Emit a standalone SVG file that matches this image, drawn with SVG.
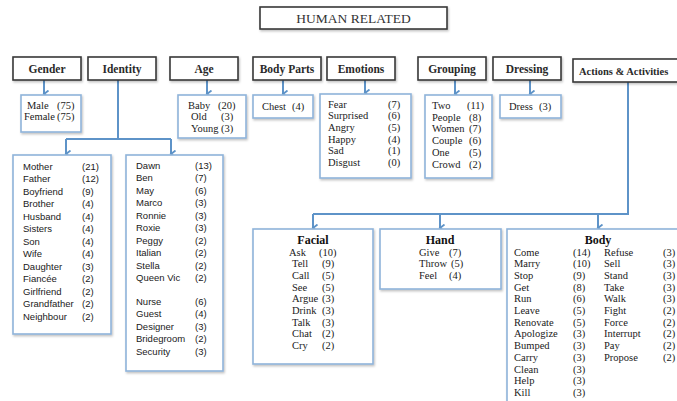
<svg xmlns="http://www.w3.org/2000/svg" width="677" height="401" viewBox="0 0 677 401">
<style>
.hdr{fill:#fff;stroke:#3a3a3a;stroke-width:1.6}
.box{fill:#fff;stroke:#8fb3da;stroke-width:1.6}
.ht{font-family:"Liberation Serif",serif;font-size:11.5px;font-weight:bold;fill:#2a2a2a;text-anchor:middle}
.s{font-family:"Liberation Serif",serif;font-size:10.5px;fill:#1a1a1a}
.b{font-family:"Liberation Sans",sans-serif;font-size:9.5px;fill:#1a1a1a}
.st{font-family:"Liberation Serif",serif;font-size:12px;font-weight:bold;fill:#111;text-anchor:middle}
.c{fill:none;stroke:#5e93c8;stroke-width:2}
.title{font-family:"Liberation Serif",serif;font-size:13.5px;fill:#333;text-anchor:middle}
</style>
<defs>
<filter id="sh" x="-10%" y="-10%" width="130%" height="140%">
<feDropShadow dx="1" dy="1.5" stdDeviation="1" flood-color="#000" flood-opacity="0.25"/>
</filter>
<marker id="ah" markerWidth="8" markerHeight="8" refX="4" refY="6" orient="auto-start-reverse" markerUnits="userSpaceOnUse" viewBox="0 0 8 8">
<path d="M0.5,1.5 L4,6 L7.5,1.5" fill="none" stroke="#5e93c8" stroke-width="1.8"/>
</marker>
</defs>
<rect width="677" height="401" fill="#fff"/>

<g id="title">
<rect x="260" y="7" width="187" height="22" class="hdr" filter="url(#sh)"/>
<text x="353.5" y="23" class="title">HUMAN RELATED</text>
</g>

<g id="connectors">
<path class="c" d="M44,80 V94" marker-end="url(#ah)"/>
<path class="c" d="M207,80 V94" marker-end="url(#ah)"/>
<path class="c" d="M283,80 V94" marker-end="url(#ah)"/>
<path class="c" d="M365,80 V93" marker-end="url(#ah)"/>
<path class="c" d="M455,80 V94" marker-end="url(#ah)"/>
<path class="c" d="M530,80 V94" marker-end="url(#ah)"/>
<path class="c" d="M118,80 V139"/>
<path class="c" d="M66,139 H171"/>
<path class="c" d="M66,139 V154" marker-end="url(#ah)"/>
<path class="c" d="M171,139 V154" marker-end="url(#ah)"/>
<path class="c" d="M628,82 V214 H313"/>
<path class="c" d="M313,214 V228" marker-end="url(#ah)"/>
<path class="c" d="M440,214 V228" marker-end="url(#ah)"/>
<path class="c" d="M598,214 V228" marker-end="url(#ah)"/>
</g>

<g id="gender">
<rect x="13" y="57" width="68" height="23" class="hdr" filter="url(#sh)"/>
<text x="47" y="73" class="ht">Gender</text>
</g>
<g id="identity">
<rect x="88" y="57" width="68" height="23" class="hdr" filter="url(#sh)"/>
<text x="122" y="73" class="ht">Identity</text>
</g>
<g id="age">
<rect x="170" y="57" width="68" height="23" class="hdr" filter="url(#sh)"/>
<text x="204" y="73" class="ht">Age</text>
</g>
<g id="bodyparts">
<rect x="253" y="57" width="68" height="23" class="hdr" filter="url(#sh)"/>
<text x="287" y="73" class="ht">Body Parts</text>
</g>
<g id="emotions">
<rect x="327" y="57" width="68" height="23" class="hdr" filter="url(#sh)"/>
<text x="361" y="73" class="ht">Emotions</text>
</g>
<g id="grouping">
<rect x="418" y="57" width="68" height="23" class="hdr" filter="url(#sh)"/>
<text x="452" y="73" class="ht">Grouping</text>
</g>
<g id="dressing">
<rect x="493" y="57" width="68" height="23" class="hdr" filter="url(#sh)"/>
<text x="527" y="73" class="ht">Dressing</text>
</g>
<g id="actions">
<rect x="573" y="59" width="110" height="23" class="hdr" filter="url(#sh)"/>
<text x="579" y="75" class="ht" style="text-anchor:start;font-size:10.5px">Actions &amp; Activities</text>
</g>

<g id="gender-list">
<rect x="21" y="95" width="60" height="37" class="box" filter="url(#sh)"/>
<text class="s" x="27" y="108.5">Male</text><text class="s" x="57" y="108.5">(75)</text>
<text class="s" x="24" y="120">Female</text><text class="s" x="57" y="120">(75)</text>
</g>

<g id="age-list">
<rect x="178" y="95" width="68" height="43" class="box" filter="url(#sh)"/>
<text class="s" x="188" y="108.5">Baby</text><text class="s" x="218" y="108.5">(20)</text>
<text class="s" x="191" y="120">Old</text><text class="s" x="221" y="120">(3)</text>
<text class="s" x="191" y="131.5">Young</text><text class="s" x="221" y="131.5">(3)</text>
</g>

<g id="bodyparts-list">
<rect x="253" y="95" width="60" height="23" class="box" filter="url(#sh)"/>
<text class="s" x="262" y="109.5">Chest</text><text class="s" x="292" y="109.5">(4)</text>
</g>

<g id="emotions-list">
<rect x="320" y="94" width="91" height="84" class="box" filter="url(#sh)"/>
<text class="s" x="328" y="107.5">Fear</text><text class="s" x="388" y="107.5">(7)</text>
<text class="s" x="328" y="119.2">Surprised</text><text class="s" x="388" y="119.2">(6)</text>
<text class="s" x="328" y="130.9">Angry</text><text class="s" x="388" y="130.9">(5)</text>
<text class="s" x="328" y="142.6">Happy</text><text class="s" x="388" y="142.6">(4)</text>
<text class="s" x="328" y="154.3">Sad</text><text class="s" x="388" y="154.3">(1)</text>
<text class="s" x="328" y="166">Disgust</text><text class="s" x="388" y="166">(0)</text>
</g>

<g id="grouping-list">
<rect x="425" y="95" width="67" height="83" class="box" filter="url(#sh)"/>
<text class="s" x="432" y="109">Two</text><text class="s" x="467" y="109">(11)</text>
<text class="s" x="432" y="120.7">People</text><text class="s" x="469" y="120.7">(8)</text>
<text class="s" x="432" y="132.4">Women</text><text class="s" x="469" y="132.4">(7)</text>
<text class="s" x="432" y="144.1">Couple</text><text class="s" x="469" y="144.1">(6)</text>
<text class="s" x="432" y="155.8">One</text><text class="s" x="469" y="155.8">(5)</text>
<text class="s" x="432" y="167.5">Crowd</text><text class="s" x="469" y="167.5">(2)</text>
</g>

<g id="dressing-list">
<rect x="500" y="95" width="61" height="23" class="box" filter="url(#sh)"/>
<text class="s" x="509" y="109.5">Dress</text><text class="s" x="539" y="109.5">(3)</text>
</g>

<g id="identity-family">
<rect x="13" y="155" width="98" height="179" class="box" filter="url(#sh)"/>
<text class="b" x="23" y="169.5">Mother</text><text class="b" x="82" y="169.5">(21)</text>
<text class="b" x="23" y="182">Father</text><text class="b" x="82" y="182">(12)</text>
<text class="b" x="23" y="194.5">Boyfriend</text><text class="b" x="82" y="194.5">(9)</text>
<text class="b" x="23" y="207">Brother</text><text class="b" x="82" y="207">(4)</text>
<text class="b" x="23" y="219.5">Husband</text><text class="b" x="82" y="219.5">(4)</text>
<text class="b" x="23" y="232">Sisters</text><text class="b" x="82" y="232">(4)</text>
<text class="b" x="23" y="244.5">Son</text><text class="b" x="82" y="244.5">(4)</text>
<text class="b" x="23" y="257">Wife</text><text class="b" x="82" y="257">(4)</text>
<text class="b" x="23" y="269.5">Daughter</text><text class="b" x="82" y="269.5">(3)</text>
<text class="b" x="23" y="282">Fiancée</text><text class="b" x="82" y="282">(2)</text>
<text class="b" x="23" y="294.5">Girlfriend</text><text class="b" x="82" y="294.5">(2)</text>
<text class="b" x="23" y="307">Grandfather</text><text class="b" x="82" y="307">(2)</text>
<text class="b" x="23" y="319.5">Neighbour</text><text class="b" x="82" y="319.5">(2)</text>
</g>

<g id="identity-names">
<rect x="126" y="155" width="97" height="216" class="box" filter="url(#sh)"/>
<text class="b" x="136" y="168.5">Dawn</text><text class="b" x="195" y="168.5">(13)</text>
<text class="b" x="136" y="181">Ben</text><text class="b" x="195" y="181">(7)</text>
<text class="b" x="136" y="193.5">May</text><text class="b" x="195" y="193.5">(6)</text>
<text class="b" x="136" y="206">Marco</text><text class="b" x="195" y="206">(3)</text>
<text class="b" x="136" y="218.5">Ronnie</text><text class="b" x="195" y="218.5">(3)</text>
<text class="b" x="136" y="231">Roxie</text><text class="b" x="195" y="231">(3)</text>
<text class="b" x="136" y="243.5">Peggy</text><text class="b" x="195" y="243.5">(2)</text>
<text class="b" x="136" y="256">Italian</text><text class="b" x="195" y="256">(2)</text>
<text class="b" x="136" y="268.5">Stella</text><text class="b" x="195" y="268.5">(2)</text>
<text class="b" x="136" y="281">Queen Vic</text><text class="b" x="195" y="281">(2)</text>
<text class="b" x="136" y="304.5">Nurse</text><text class="b" x="195" y="304.5">(6)</text>
<text class="b" x="136" y="317">Guest</text><text class="b" x="195" y="317">(4)</text>
<text class="b" x="136" y="329.5">Designer</text><text class="b" x="195" y="329.5">(3)</text>
<text class="b" x="136" y="342">Bridegroom</text><text class="b" x="195" y="342">(2)</text>
<text class="b" x="136" y="354.5">Security</text><text class="b" x="195" y="354.5">(3)</text>
</g>

<g id="facial">
<rect x="253" y="229" width="120" height="135" class="box" filter="url(#sh)"/>
<text class="st" x="313" y="244">Facial</text>
<text class="s" x="289" y="255.5">Ask</text><text class="s" x="319" y="255.5">(10)</text>
<text class="s" x="292" y="267.2">Tell</text><text class="s" x="322" y="267.2">(9)</text>
<text class="s" x="292" y="278.9">Call</text><text class="s" x="322" y="278.9">(5)</text>
<text class="s" x="292" y="290.6">See</text><text class="s" x="322" y="290.6">(5)</text>
<text class="s" x="292" y="302.3">Argue</text><text class="s" x="322" y="302.3">(3)</text>
<text class="s" x="292" y="314">Drink</text><text class="s" x="322" y="314">(3)</text>
<text class="s" x="292" y="325.7">Talk</text><text class="s" x="322" y="325.7">(3)</text>
<text class="s" x="292" y="337.4">Chat</text><text class="s" x="322" y="337.4">(2)</text>
<text class="s" x="292" y="349.1">Cry</text><text class="s" x="322" y="349.1">(2)</text>
</g>

<g id="hand">
<rect x="380" y="229" width="121" height="60" class="box" filter="url(#sh)"/>
<text class="st" x="440" y="244">Hand</text>
<text class="s" x="419" y="255.5">Give</text><text class="s" x="449" y="255.5">(7)</text>
<text class="s" x="419" y="267.2">Throw</text><text class="s" x="451" y="267.2">(5)</text>
<text class="s" x="419" y="278.9">Feel</text><text class="s" x="449" y="278.9">(4)</text>
</g>

<g id="body">
<rect x="507" y="229" width="178" height="180" class="box" filter="url(#sh)"/>
<text class="st" x="598" y="244">Body</text>
<text class="s" x="514" y="255.5">Come</text><text class="s" x="573" y="255.5">(14)</text>
<text class="s" x="514" y="267.2">Marry</text><text class="s" x="573" y="267.2">(10)</text>
<text class="s" x="514" y="278.9">Stop</text><text class="s" x="573" y="278.9">(9)</text>
<text class="s" x="514" y="290.6">Get</text><text class="s" x="573" y="290.6">(8)</text>
<text class="s" x="514" y="302.3">Run</text><text class="s" x="573" y="302.3">(6)</text>
<text class="s" x="514" y="314">Leave</text><text class="s" x="573" y="314">(5)</text>
<text class="s" x="514" y="325.7">Renovate</text><text class="s" x="573" y="325.7">(5)</text>
<text class="s" x="514" y="337.4">Apologize</text><text class="s" x="573" y="337.4">(3)</text>
<text class="s" x="514" y="349.1">Bumped</text><text class="s" x="573" y="349.1">(3)</text>
<text class="s" x="514" y="360.8">Carry</text><text class="s" x="573" y="360.8">(3)</text>
<text class="s" x="514" y="372.5">Clean</text><text class="s" x="573" y="372.5">(3)</text>
<text class="s" x="514" y="384.2">Help</text><text class="s" x="573" y="384.2">(3)</text>
<text class="s" x="514" y="395.9">Kill</text><text class="s" x="573" y="395.9">(3)</text>
<text class="s" x="604" y="255.5">Refuse</text><text class="s" x="663" y="255.5">(3)</text>
<text class="s" x="604" y="267.2">Sell</text><text class="s" x="663" y="267.2">(3)</text>
<text class="s" x="604" y="278.9">Stand</text><text class="s" x="663" y="278.9">(3)</text>
<text class="s" x="604" y="290.6">Take</text><text class="s" x="663" y="290.6">(3)</text>
<text class="s" x="604" y="302.3">Walk</text><text class="s" x="663" y="302.3">(3)</text>
<text class="s" x="604" y="314">Fight</text><text class="s" x="663" y="314">(2)</text>
<text class="s" x="604" y="325.7">Force</text><text class="s" x="663" y="325.7">(2)</text>
<text class="s" x="604" y="337.4">Interrupt</text><text class="s" x="663" y="337.4">(2)</text>
<text class="s" x="604" y="349.1">Pay</text><text class="s" x="663" y="349.1">(2)</text>
<text class="s" x="604" y="360.8">Propose</text><text class="s" x="663" y="360.8">(2)</text>
</g>
</svg>
